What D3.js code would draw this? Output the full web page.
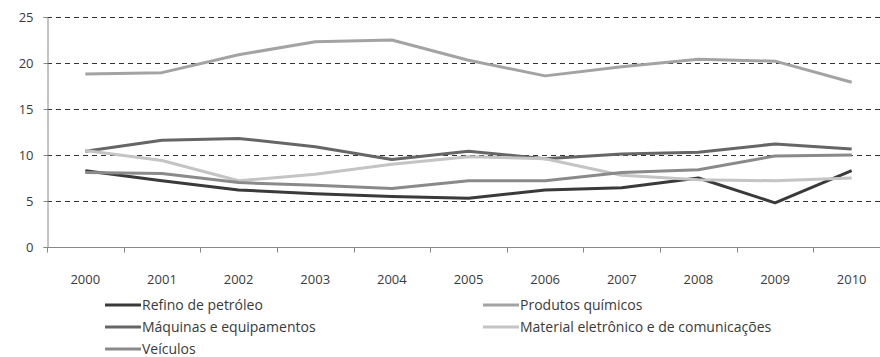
<!DOCTYPE html>
<html>
<head>
<meta charset="utf-8">
<script src="https://cdn.jsdelivr.net/npm/d3@7/dist/d3.min.js"></script>
<style>
  html, body { margin: 0; padding: 0; background: #fff; }
  svg { display: block; font-family: "Open Sans", "Noto Sans", sans-serif; }
</style>
</head>
<body>
<svg id="chart" width="880" height="357"></svg>
<script>
// Years on the category axis
const years = ["2000","2001","2002","2003","2004","2005","2006","2007","2008","2009","2010"];

// Series values (%), one array per sector
const refino     = [8.3, 7.2, 6.2, 5.8, 5.5, 5.3, 6.2, 6.45, 7.5, 4.8, 8.3];
const quimicos   = [18.8, 18.95, 20.9, 22.3, 22.5, 20.3, 18.6, 19.6, 20.4, 20.2, 17.9];
const maquinas   = [10.4, 11.6, 11.8, 10.9, 9.5, 10.4, 9.6, 10.1, 10.3, 11.2, 10.65];
const eletronico = [10.5, 9.4, 7.2, 7.9, 9.0, 9.8, 9.6, 7.8, 7.3, 7.2, 7.5];
const veiculos   = [8.1, 8.0, 7.0, 6.7, 6.35, 7.2, 7.2, 8.1, 8.4, 9.9, 10.0];

const seriesNames = [
  "Refino de petróleo",
  "Produtos químicos",
  "Máquinas e equipamentos",
  "Material eletrônico e de comunicações",
  "Veículos"
];
const yTicks = [0, 5, 10, 15, 20, 25];

const series = [
  { name: seriesNames[0], values: refino,     color: "#3a3a3a" },
  { name: seriesNames[1], values: quimicos,   color: "#a3a3a3" },
  { name: seriesNames[2], values: maquinas,   color: "#666666" },
  { name: seriesNames[3], values: eletronico, color: "#c4c4c4" },
  { name: seriesNames[4], values: veiculos,   color: "#8a8a8a" }
];

const svg = d3.select("#chart");
const plot = { left: 47, top: 17, bottom: 247, right: 890 };

const x = d3.scaleBand().domain(years).range([plot.left, plot.right]);
const y = d3.scaleLinear().domain([0, 25]).range([plot.bottom, plot.top]);

// dashed gridlines
svg.append("g")
  .selectAll("line")
  .data(yTicks.filter(d => d > 0))
  .join("line")
  .attr("x1", plot.left)
  .attr("x2", 880)
  .attr("y1", d => Math.round(y(d)) + 0.5)
  .attr("y2", d => Math.round(y(d)) + 0.5)
  .attr("stroke", "#333")
  .attr("stroke-width", 1)
  .attr("stroke-dasharray", "5,4");

// y axis
const yAxis = svg.append("g")
  .attr("transform", `translate(${plot.left + 0.5},0)`)
  .call(d3.axisLeft(y).tickValues(yTicks).tickSize(4).tickPadding(10));
yAxis.select(".domain").attr("stroke", "#888");
yAxis.selectAll(".tick line").attr("stroke", "#888");
yAxis.selectAll(".tick text")
  .attr("fill", "#3a3a3a")
  .style("font-size", "13px")
  .style("font-family", "\"Open Sans\", sans-serif");

// x axis with ticks at category boundaries
const xAxis = svg.append("g")
  .attr("transform", `translate(0,${plot.bottom + 0.5})`);
xAxis.append("line")
  .attr("x1", plot.left).attr("x2", 880)
  .attr("stroke", "#888");
xAxis.selectAll("line.tk")
  .data(years)
  .join("line")
  .attr("class", "tk")
  .attr("x1", d => Math.round(x(d)) + 0.5)
  .attr("x2", d => Math.round(x(d)) + 0.5)
  .attr("y1", 0).attr("y2", 5)
  .attr("stroke", "#888");
xAxis.selectAll("text")
  .data(years)
  .join("text")
  .attr("x", d => x(d) + x.bandwidth() / 2)
  .attr("y", 36)
  .attr("text-anchor", "middle")
  .attr("fill", "#3a3a3a")
  .style("font-size", "13px")
  .text(d => d);

// series lines
const line = d3.line()
  .x((d, i) => x(years[i]) + x.bandwidth() / 2)
  .y(d => y(d));

svg.append("g")
  .selectAll("path")
  .data(series)
  .join("path")
  .attr("fill", "none")
  .attr("stroke", d => d.color)
  .attr("stroke-width", 3)
  .attr("stroke-linejoin", "round")
  .attr("d", d => line(d.values));

// legend: two columns, three rows
const legend = svg.append("g");
const colX = [105, 483];
const rowY = [305, 327, 349];
series.forEach((s, i) => {
  const gx = colX[i % 2], gy = rowY[Math.floor(i / 2)];
  legend.append("line")
    .attr("x1", gx).attr("x2", gx + 36)
    .attr("y1", gy).attr("y2", gy)
    .attr("stroke", s.color)
    .attr("stroke-width", 3);
  legend.append("text")
    .attr("x", gx + 37)
    .attr("y", gy)
    .attr("dy", "0.35em")
    .attr("fill", "#3a3a3a")
    .style("font-size", "14px")
    .text(s.name);
});
</script>
</body>
</html>
